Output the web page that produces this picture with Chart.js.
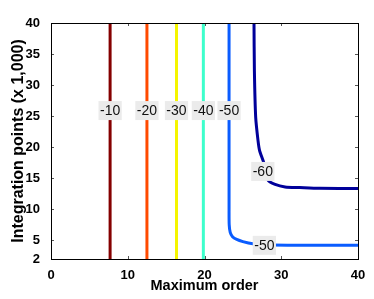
<!DOCTYPE html>
<html>
<head>
<meta charset="utf-8">
<script src="https://cdn.jsdelivr.net/npm/chart.js@4.4.1/dist/chart.umd.min.js"></script>
<style>
html,body{margin:0;padding:0;background:#fff;}
#wrap{width:374px;height:299px;position:relative;}
</style>
</head>
<body>
<div id="wrap"><canvas id="c" width="374" height="299"></canvas></div>
<script>
// ---- data ----
const levels = [-10, -20, -30, -40, -50, -60];
const levelColors = ['#850000', '#ff4a00', '#f5f500', '#3dffcc', '#0a5cff', '#00009a'];
const c10 = [[7.7, 2], [7.7, 40]];
const c20 = [[12.5, 2], [12.5, 40]];
const c30 = [[16.35, 2], [16.35, 40]];
const c40 = [[19.85, 2], [19.85, 40]];
const c50 = [[23.2, 40], [23.2, 10], [23.22, 7.5], [23.35, 6.3], [23.65, 5.6], [24.2, 5.15], [25.0, 4.8], [26.3, 4.45], [28, 4.3], [32, 4.22], [40, 4.2]];
const c60 = [[26.45, 40], [26.5, 32.4], [26.67, 24.8], [26.97, 21.1], [27.17, 19.5], [27.75, 17.4], [28.27, 14.7], [29.2, 14.0], [30.5, 13.6], [32.4, 13.5], [35, 13.38], [40, 13.34]];
const labelTexts = ['-10', '-20', '-30', '-40', '-50', '-60', '-50'];
const labelX = [7.7, 12.5, 16.35, 19.85, 23.2, 27.6, 27.8];
const labelY = [25.9, 25.9, 25.9, 25.9, 25.9, 16.1, 4.2];
const xTicks = [0, 10, 20, 30, 40];
const yTicks = [2, 5, 10, 15, 20, 25, 30, 35, 40];
const xTitle = 'Maximum order';
const yTitle = 'Integration points (x 1,000)';

const curves = [c10, c20, c30, c40, c50, c60];
const datasets = curves.map((c, i) => ({
  label: String(levels[i]),
  data: c.map(p => ({x: p[0], y: p[1]})),
  showLine: true,
  borderColor: levelColors[i],
  backgroundColor: levelColors[i],
  borderWidth: 3,
  pointRadius: 0,
  tension: 0.25,
  fill: false
}));

const FONT = '"Liberation Sans", Arial, sans-serif';

const framePlugin = {
  id: 'frame',
  afterDatasetsDraw(chart) {
    const ctx = chart.ctx;
    const xs = chart.scales.x, ys = chart.scales.y;
    const a = chart.chartArea;
    // contour labels
    ctx.save();
    ctx.font = '14px ' + FONT;
    ctx.textAlign = 'center';
    ctx.textBaseline = 'middle';
    for (let i = 0; i < labelTexts.length; i++) {
      const px = xs.getPixelForValue(labelX[i]);
      const py = ys.getPixelForValue(labelY[i]);
      const w = ctx.measureText(labelTexts[i]).width + 3;
      const h = 19;
      ctx.fillStyle = '#ebebeb';
      ctx.fillRect(px - w / 2, py - h / 2, w, h);
      ctx.fillStyle = '#111';
      ctx.fillText(labelTexts[i], px, py + 0.5);
    }
    ctx.restore();
    // inside tick marks
    ctx.save();
    ctx.strokeStyle = '#555';
    ctx.lineWidth = 1;
    const tl = 3;
    ctx.beginPath();
    xTicks.forEach(v => {
      const px = Math.round(xs.getPixelForValue(v)) + 0.5;
      ctx.moveTo(px, a.bottom); ctx.lineTo(px, a.bottom - tl);
      ctx.moveTo(px, a.top); ctx.lineTo(px, a.top + tl);
    });
    yTicks.forEach(v => {
      const py = Math.round(ys.getPixelForValue(v)) + 0.5;
      ctx.moveTo(a.left, py); ctx.lineTo(a.left + tl, py);
      ctx.moveTo(a.right, py); ctx.lineTo(a.right - tl, py);
    });
    ctx.stroke();
    // frame
    ctx.strokeStyle = '#000';
    ctx.lineWidth = 1;
    ctx.strokeRect(Math.round(a.left) + 0.5, Math.round(a.top) + 0.5, Math.round(a.right - a.left), Math.round(a.bottom - a.top));
    ctx.restore();
  }
};

new Chart(document.getElementById('c'), {
  type: 'scatter',
  data: {datasets},
  options: {
    responsive: false,
    animation: false,
    devicePixelRatio: 1,
    layout: {padding: {left: 0, right: 16, top: 23, bottom: 0}},
    plugins: {legend: {display: false}, tooltip: {enabled: false}},
    scales: {
      x: {
        type: 'linear', min: 0, max: 40,
        afterBuildTicks(s) { s.ticks = xTicks.map(v => ({value: v})); },
        afterFit(s) { s.height = 40; },
        grid: {display: false},
        border: {display: false},
        ticks: {color: '#000', padding: 1, font: {family: FONT, size: 13, weight: 'bold'}, maxRotation: 0},
        title: {display: true, text: xTitle, color: '#000', padding: {top: 0, bottom: 4}, font: {family: FONT, size: 14.5, weight: 'bold'}}
      },
      y: {
        type: 'linear', min: 2, max: 40,
        afterBuildTicks(s) { s.ticks = yTicks.map(v => ({value: v})); },
        afterFit(s) { s.width = 51; },
        grid: {display: false},
        border: {display: false},
        ticks: {color: '#000', padding: 3, font: {family: FONT, size: 13, weight: 'bold'}},
        title: {display: true, text: yTitle, color: '#000', padding: {top: 9, bottom: 0}, font: {family: FONT, size: 16, weight: 'bold'}}
      }
    }
  },
  plugins: [framePlugin]
});
</script>
</body>
</html>
